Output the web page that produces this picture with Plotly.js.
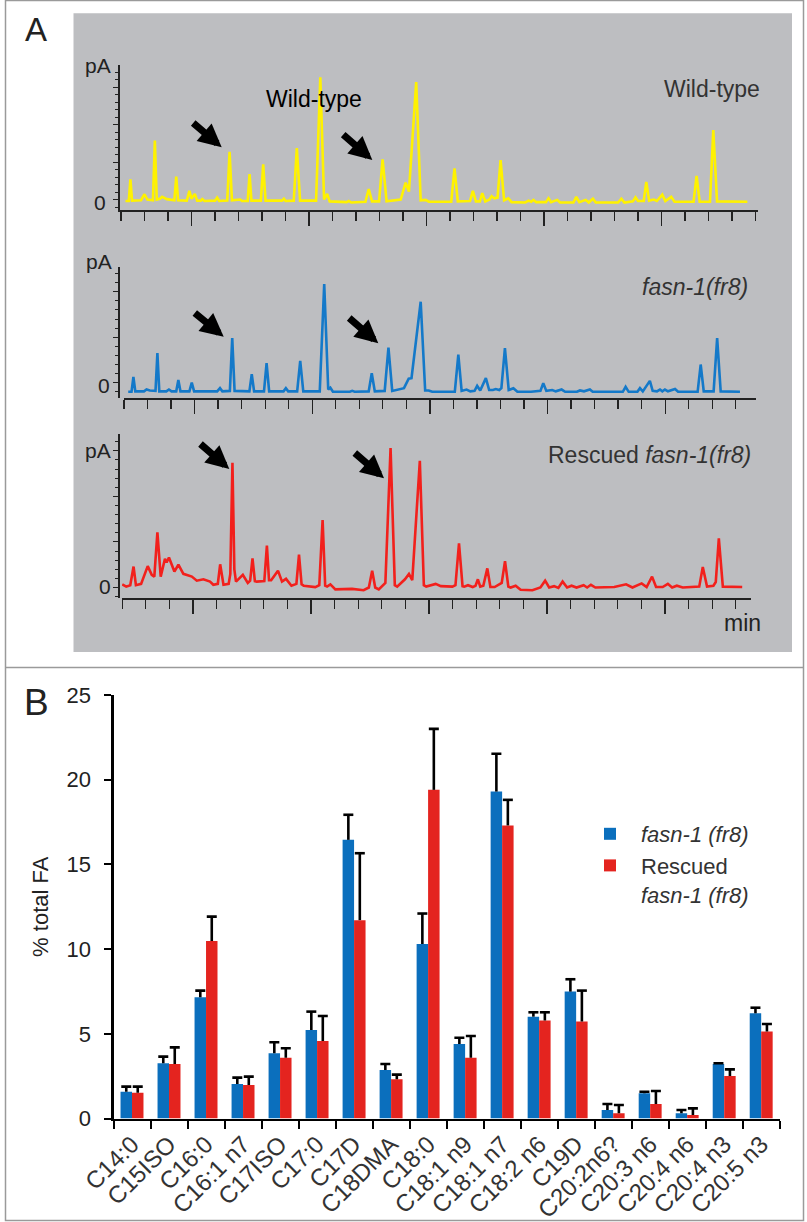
<!DOCTYPE html>
<html><head><meta charset="utf-8">
<script src="https://cdn.plot.ly/plotly-3.0.1.min.js"></script>
<style>html,body{margin:0;padding:0;background:#fff}#chart{width:807px;height:1222px}</style>
</head><body><div id="chart"></div>
<script>
// ---------- Panel A: GC chromatograms (time in min, signal in pA units) ----------
const wildTypeTrace = [[2.19,-0.04],[2.33,-0.04],[2.40,0.54],[2.47,-0.03],[2.85,-0.02],[3.00,0.14],[3.12,0.00],
[3.36,-0.02],[3.44,1.57],[3.52,0.00],[3.65,0.02],[3.75,0.07],[3.95,0.01],[4.27,-0.02],[4.35,0.61],[4.43,-0.02],
[4.80,-0.03],[4.91,0.23],[5.00,0.02],[5.14,0.15],[5.24,-0.03],[5.40,-0.03],[5.46,0.01],[5.55,-0.04],
[6.00,-0.03],[6.09,0.05],[6.18,-0.04],[6.52,-0.03],[6.62,1.27],[6.72,-0.02],[7.07,0.0],[7.15,-0.04],
[7.39,-0.04],[7.47,0.68],[7.55,-0.03],[7.95,-0.03],[8.05,0.94],[8.15,-0.03],[8.85,-0.03],[8.93,0.02],[9.00,-0.04],
[9.35,-0.03],[9.48,1.37],[9.62,-0.03],[10.30,-0.03],[10.48,3.26],[10.64,0.0],[10.77,0.15],[10.88,-0.05],
[11.60,-0.07],[11.69,-0.04],[11.80,-0.08],[12.40,-0.06],[12.54,0.28],[12.68,-0.05],[12.98,-0.05],[13.13,1.07],[13.30,-0.05],
[13.90,0.0],[14.11,0.45],[14.25,0.21],[14.56,3.13],[14.75,-0.02],[14.96,-0.01],[15.10,-0.06],
[16.05,-0.06],[16.19,0.83],[16.33,-0.05],[16.85,-0.04],[16.97,0.23],[17.10,-0.05],[17.27,-0.05],[17.37,0.17],[17.50,-0.05],
[17.68,0.0],[17.77,0.09],[17.88,0.03],[18.02,0.05],[18.15,1.05],[18.30,-0.02],[18.48,0.03],[18.62,-0.07],
[19.20,-0.08],[19.34,-0.03],[19.45,-0.06],[19.55,-0.01],[19.66,-0.07],[20.08,-0.07],[20.19,0.03],[20.30,-0.07],[20.56,-0.01],[20.68,-0.08],
[21.25,-0.08],[21.37,0.07],[21.50,-0.07],[21.77,-0.01],[21.90,-0.08],[22.08,0.02],[22.20,-0.08],
[23.15,-0.08],[23.29,0.02],[23.42,-0.08],[23.78,-0.05],[23.89,0.06],[24.00,-0.04],
[24.24,-0.04],[24.35,0.47],[24.47,-0.03],[24.67,0.0],[24.80,-0.04],[25.03,0.13],[25.16,-0.04],[25.41,0.07],[25.55,-0.06],
[26.36,-0.06],[26.49,0.63],[26.62,-0.06],[27.06,-0.06],[27.20,1.85],[27.36,-0.05],[28.65,-0.06]];

const fasnTrace = [[2.18,-0.20],[2.32,-0.20],[2.40,0.13],[2.48,-0.19],[2.85,-0.19],[2.96,-0.15],[3.10,-0.17],
[3.34,-0.18],[3.42,0.65],[3.50,-0.19],[3.80,-0.19],[3.91,-0.15],[4.02,-0.19],[4.22,-0.19],[4.31,0.06],[4.40,-0.19],
[4.78,-0.19],[4.88,0.00],[4.98,-0.19],[5.50,-0.19],[5.96,-0.19],[6.08,-0.12],[6.18,-0.19],
[6.50,-0.18],[6.60,0.98],[6.70,-0.18],[7.33,-0.19],[7.43,0.19],[7.53,-0.19],[7.95,-0.19],[8.06,0.43],[8.17,-0.19],
[8.78,-0.19],[8.88,-0.12],[8.98,-0.19],[9.36,-0.19],[9.49,0.48],[9.62,-0.19],
[10.32,-0.19],[10.51,2.17],[10.68,-0.15],[10.77,-0.11],[10.88,-0.20],[11.60,-0.20],[11.70,-0.18],[11.80,-0.20],
[12.40,-0.19],[12.53,0.21],[12.66,-0.19],[13.08,-0.18],[13.24,0.77],[13.40,-0.18],
[13.90,-0.12],[14.10,0.09],[14.22,0.10],[14.61,1.78],[14.80,-0.17],[14.95,-0.17],[15.10,-0.20],
[16.06,-0.20],[16.21,0.62],[16.35,-0.18],[16.56,-0.15],[16.72,-0.19],[16.90,-0.18],[17.01,-0.07],[17.14,-0.17],
[17.38,0.10],[17.52,-0.16],[17.68,-0.16],[17.80,-0.14],[17.95,-0.16],[18.04,-0.12],[18.19,0.76],[18.35,-0.16],[18.55,-0.12],[18.72,-0.20],
[19.30,-0.20],[19.70,-0.18],[19.82,-0.01],[19.95,-0.18],[20.20,-0.16],[20.35,-0.19],[20.60,-0.15],[20.75,-0.20],
[21.25,-0.20],[21.38,-0.17],[21.55,-0.19],[21.80,-0.15],[21.92,-0.20],[23.20,-0.20],[23.32,-0.09],[23.45,-0.20],
[23.82,-0.20],[23.93,-0.12],[24.05,-0.19],[24.35,0.04],[24.47,-0.18],[24.65,-0.19],[24.78,-0.15],[24.88,-0.19],
[24.99,-0.15],[25.12,-0.19],[25.42,-0.14],[25.55,-0.20],[26.38,-0.20],[26.51,0.40],[26.64,-0.19],
[27.06,-0.19],[27.21,0.98],[27.36,-0.19],[28.18,-0.20]];

const rescuedTrace = [[2.00,0.07],[2.17,0.02],[2.34,0.05],[2.48,0.46],[2.58,0.05],[2.80,0.08],[3.08,0.47],[3.25,0.28],
[3.36,0.24],[3.49,1.21],[3.63,0.24],[3.81,0.63],[3.88,0.55],[3.98,0.66],[4.21,0.35],[4.38,0.50],[4.59,0.30],[4.95,0.24],
[5.16,0.15],[5.44,0.18],[5.72,0.13],[5.86,0.06],[6.05,0.08],[6.15,0.51],[6.29,0.06],[6.51,0.08],[6.58,0.30],[6.67,2.74],
[6.75,0.40],[6.82,0.13],[7.11,0.28],[7.32,0.10],[7.42,0.15],[7.52,0.64],[7.62,0.14],[7.70,0.13],[8.02,0.14],[8.13,0.92],
[8.22,0.16],[8.31,0.16],[8.60,0.37],[8.77,0.13],[8.94,0.19],[9.17,0.04],[9.38,0.08],[9.49,0.72],[9.60,0.07],[9.69,0.04],
[10.18,0.01],[10.35,0.05],[10.49,1.48],[10.60,0.04],[10.68,0.02],[10.82,0.07],[11.03,-0.04],[11.74,-0.03],[12.23,-0.06],
[12.45,0.0],[12.59,0.37],[12.72,0.0],[12.87,-0.04],[13.15,0.10],[13.37,3.06],[13.55,0.05],[13.65,0.02],[13.98,0.18],
[14.15,0.30],[14.29,0.16],[14.61,2.78],[14.78,0.05],[14.88,0.02],[15.28,0.08],[15.50,0.03],[15.99,0.02],[16.12,0.05],
[16.27,0.97],[16.42,0.03],[16.49,0.02],[16.65,0.05],[16.85,0.01],[16.97,0.04],[17.07,0.18],[17.17,0.02],[17.30,0.04],
[17.47,0.42],[17.60,0.01],[17.78,0.01],[17.95,0.06],[18.08,0.10],[18.22,0.58],[18.36,0.02],[18.46,0.00],[18.67,0.04],
[18.88,-0.05],[19.38,-0.06],[19.72,0.0],[19.92,0.15],[20.09,0.0],[20.30,0.03],[20.48,-0.01],[20.66,0.13],[20.85,0.0],
[21.04,0.04],[21.25,0.0],[21.55,0.05],[21.70,0.0],[21.86,0.06],[22.05,0.0],[22.40,0.01],[22.85,0.01],[23.35,0.07],
[23.62,0.0],[24.01,0.09],[24.22,0.01],[24.45,0.24],[24.62,0.01],[24.90,0.01],[25.12,0.08],[25.30,0.0],[25.50,0.04],
[25.75,0.0],[26.45,0.02],[26.60,0.45],[26.78,0.02],[27.05,0.04],[27.15,0.12],[27.28,1.08],[27.45,0.02],[28.27,0.01]];

// ---------- Panel B: fatty acid composition ----------
const categories = ['C14:0','C15ISO','C16:0','C16:1 n7','C17ISO','C17:0','C17D','C18DMA','C18:0','C18:1 n9',
  'C18:1 n7','C18:2 n6','C19D','C20:2n6?','C20:3 n6','C20:4 n6','C20:4 n3','C20:5 n3'];
const fasnMean    = [1.58,3.26,7.16,2.04,3.85,5.23,16.45,2.86,10.3,4.40,19.3,6.01,7.49,0.50,1.49,0.31,3.22,6.21];
const fasnErr     = [0.30,0.39,0.39,0.37,0.65,1.08,1.48,0.36,1.80,0.37,2.23,0.26,0.73,0.36,0.09,0.19,0.04,0.33];
const rescuedMean = [1.52,3.22,10.48,1.98,3.59,4.58,11.71,2.32,19.4,3.59,17.3,5.78,5.72,0.31,0.86,0.21,2.51,5.13];
const rescuedErr  = [0.36,0.98,1.44,0.49,0.56,1.47,3.95,0.27,3.60,1.28,1.51,0.49,1.83,0.49,0.76,0.39,0.39,0.45];

// ---------- helpers ----------
const W = 807, H = 1222;
const px = x => x / W, py = y => 1 - y / H;
const FONT = 'Liberation Sans, Arial, sans-serif';
const TXT = '#222';

function chromAxes(xd, yd, xr, yr, ya) {
  const x = {domain: xd, range: xr, anchor: ya, showline: true, linecolor: TXT, linewidth: 1.5,
    ticks: 'outside', tick0: 0, dtick: 5, ticklen: 14, tickwidth: 1.3, tickcolor: TXT,
    showticklabels: false, showgrid: false, zeroline: false, fixedrange: true,
    minor: {tick0: 0, dtick: 1, ticks: 'outside', ticklen: 9, tickwidth: 1.3, tickcolor: TXT, showgrid: false}};
  const y = {domain: yd, range: yr, showline: true, linecolor: TXT, linewidth: 1.3,
    ticks: 'outside', tick0: 0, dtick: 1, ticklen: 5, tickwidth: 1, tickcolor: TXT,
    showticklabels: false, showgrid: false, zeroline: false, fixedrange: true,
    minor: {tick0: 0, dtick: 0.2, ticks: 'outside', ticklen: 3, tickwidth: 1, tickcolor: TXT, showgrid: false}};
  return [x, y];
}
const [xa1, ya1] = chromAxes([px(119.5), px(757.7)], [py(210), py(65)], [1.936, 29.09], [-0.28, 3.587], 'y');
const [xa2, ya2] = chromAxes([px(123.5), px(755.5)], [py(398), py(266.7)], [1.979, 28.84], [-0.336, 2.55], 'y2');
const [xa3, ya3] = chromAxes([px(122), px(751.4)], [py(598), py(434)], [1.99, 28.66], [-0.23, 3.37], 'y3');

function lineTrace(data, color, xa, ya) {
  return {type: 'scatter', mode: 'lines', x: data.map(d => d[0]), y: data.map(d => d[1]),
    xaxis: xa, yaxis: ya, line: {color: color, width: 2.6}, showlegend: false, hoverinfo: 'skip'};
}

const BLUE = '#0b6fbd', RED = '#e4241f';
const barBlue = {type: 'bar', x: categories, y: fasnMean, name: '<i>fasn-1 (fr8)</i>',
  marker: {color: BLUE, line: {width: 0}}, xaxis: 'x4', yaxis: 'y4', hoverinfo: 'skip'};
const barRed = {type: 'bar', x: categories, y: rescuedMean, name: 'Rescued<br><i>fasn-1 (fr8)</i>',
  marker: {color: RED, line: {width: 0}}, xaxis: 'x4', yaxis: 'y4', hoverinfo: 'skip'};

// error bars (upper only) drawn on an overlaying linear axis that shares the category scale
const BARGAP = 0.38, half = (1 - BARGAP) / 4, capHalf = 0.135;
function errLines(means, errs, off) {
  const xs = [], ys = [];
  means.forEach((m, i) => {
    const c = i + off, top = m + errs[i];
    xs.push(c, c, null, c - capHalf, c + capHalf, null);
    ys.push(m, top, null, top, top, null);
  });
  return {type: 'scatter', mode: 'lines', x: xs, y: ys, xaxis: 'x5', yaxis: 'y4',
    line: {color: '#000', width: 2.6}, showlegend: false, hoverinfo: 'skip', connectgaps: false};
}

const data = [
  lineTrace(wildTypeTrace, '#fff200', 'x', 'y'),
  lineTrace(fasnTrace, '#1479c9', 'x2', 'y2'),
  lineTrace(rescuedTrace, '#f2201c', 'x3', 'y3'),
  barBlue, barRed,
  errLines(fasnMean, fasnErr, -half),
  errLines(rescuedMean, rescuedErr, half)
];

function txt(text, x, y, size, opts) {
  return Object.assign({text: text, x: px(x), y: py(y), xref: 'paper', yref: 'paper', showarrow: false,
    xanchor: 'center', yanchor: 'middle', font: {family: FONT, size: size, color: TXT}}, opts || {});
}
function arrow(tipX, tipY, tailX, tailY) {
  return {text: '', x: px(tipX), y: py(tipY), xref: 'paper', yref: 'paper', showarrow: true,
    ax: tailX - tipX, ay: tailY - tipY, arrowhead: 2, arrowsize: 0.66, arrowwidth: 7,
    arrowcolor: '#000', standoff: 0};
}

const annotations = [
  txt('A', 23, 30, 33, {xanchor: 'left'}),
  txt('B', 22, 702, 37, {xanchor: 'left'}),
  txt('pA', 98, 66, 21), txt('0', 100, 202, 21),
  txt('pA', 99, 262, 21), txt('0', 104, 386, 21),
  txt('pA', 98, 450, 21), txt('0', 105, 587, 21),
  txt('min', 742, 623, 23),
  txt('Wild-type', 313.5, 99, 23, {font: {family: FONT, size: 23, color: '#000'}}),
  txt('Wild-type', 762, 89, 23, {xanchor: 'right', font: {family: FONT, size: 23, color: '#333'}}),
  txt('<i>fasn-1(fr8)</i>', 750, 287, 23, {xanchor: 'right', font: {family: FONT, size: 23, color: '#333'}}),
  txt('Rescued <i>fasn-1(fr8)</i>', 753, 455, 23, {xanchor: 'right', font: {family: FONT, size: 23, color: '#333'}}),
  arrow(221.7, 147.3, 191.7, 121.7), arrow(372.3, 160, 341.7, 133.3),
  arrow(223.7, 336.7, 193.3, 311.7), arrow(378.3, 343.3, 347.7, 316.7),
  arrow(229.3, 469, 199, 442.7), arrow(384, 478.3, 353.3, 451.7)
];

const shapes = [
  {type: 'rect', xref: 'paper', yref: 'paper', x0: px(73.5), x1: px(792), y0: py(13.3), y1: py(652),
    fillcolor: '#bdbec1', line: {width: 0}, layer: 'below'},
  {type: 'rect', xref: 'paper', yref: 'paper', x0: px(5.5), x1: px(803.5), y0: py(0.5), y1: py(1220.5),
    line: {color: '#9a9a9a', width: 1.5}, layer: 'below'},
  {type: 'line', xref: 'paper', yref: 'paper', x0: px(5.5), x1: px(803.5), y0: py(667.5), y1: py(667.5),
    line: {color: '#9a9a9a', width: 1.5}, layer: 'below'}
];

const layout = {
  width: W, height: H, margin: {l: 0, r: 0, t: 0, b: 0},
  paper_bgcolor: '#fff', plot_bgcolor: 'rgba(0,0,0,0)',
  font: {family: FONT, color: TXT},
  barmode: 'group', bargap: BARGAP, bargroupgap: 0,
  xaxis: xa1, yaxis: ya1, xaxis2: xa2, yaxis2: ya2, xaxis3: xa3, yaxis3: ya3,
  xaxis4: {domain: [px(113.5), px(779.7)], anchor: 'y4', type: 'category', range: [-0.5, 17.5],
    showline: true, linecolor: '#000', linewidth: 2.2, ticks: 'outside', tickson: 'boundaries',
    ticklen: 8, tickwidth: 2, tickcolor: '#000', tickangle: -45, showgrid: false, zeroline: false,
    tickfont: {family: FONT, size: 24, color: '#333'}, fixedrange: true},
  xaxis5: {overlaying: 'x4', anchor: 'y4', range: [-0.5, 17.5], visible: false, fixedrange: true},
  yaxis4: {domain: [py(1118.5), py(695)], anchor: 'x4', range: [0, 25], tick0: 0, dtick: 5,
    showline: true, linecolor: '#000', linewidth: 2.2, ticks: 'outside', ticklen: 7, tickwidth: 2,
    tickcolor: '#000', showgrid: false, zeroline: false, ticklabelstandoff: 9,
    tickfont: {family: FONT, size: 22, color: TXT}, fixedrange: true,
    title: {text: '% total FA', font: {family: FONT, size: 22, color: TXT}, standoff: 12}},
  showlegend: true,
  legend: {x: px(579), y: py(813), xanchor: 'left', yanchor: 'top', bgcolor: 'rgba(0,0,0,0)',
    font: {family: FONT, size: 22, color: '#333'}, itemwidth: 52, valign: 'top', tracegroupgap: 0},
  annotations: annotations, shapes: shapes
};

Plotly.newPlot('chart', data, layout, {staticPlot: true, displayModeBar: false});
</script>
</body></html>
